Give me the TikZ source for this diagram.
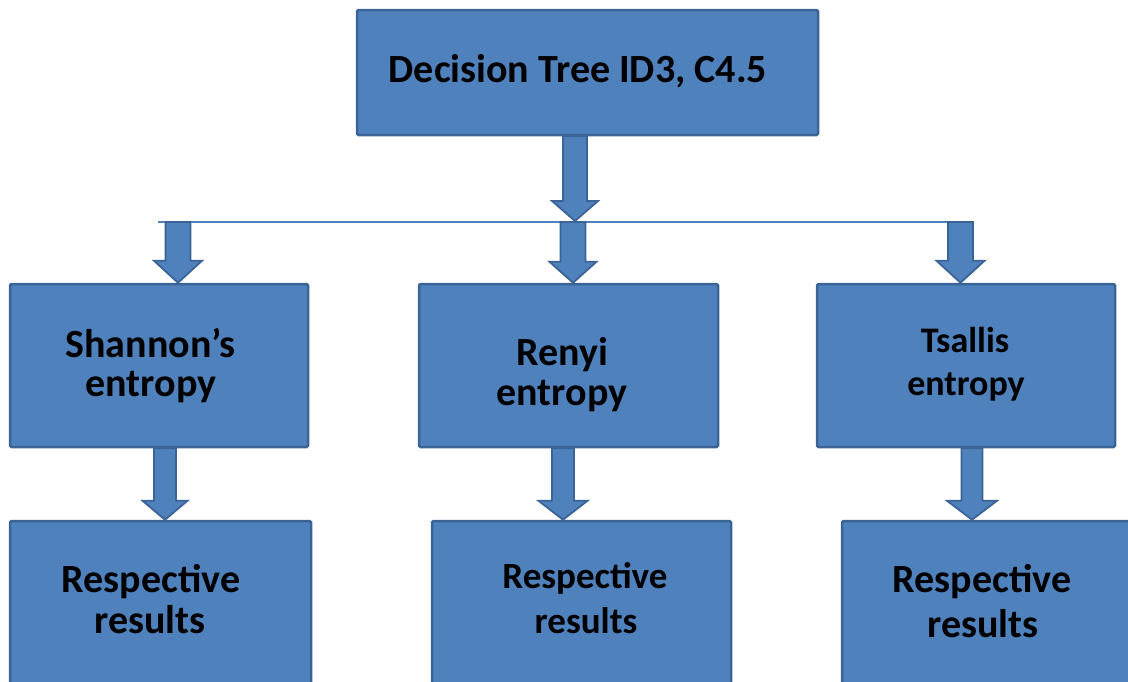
\documentclass[tikz,border=0pt]{standalone}
\usepackage{fontspec}
\setmainfont{Carlito}
\usetikzlibrary{calc}
\definecolor{boxfill}{HTML}{4F81BD}
\definecolor{boxline}{HTML}{3A6496}

% Block arrow pointing down: #1 gives x, #2 start y, #3 tip y,
% #4 shaft half width, #5 head half width, #6 head length (pt)
\newcommand{\blockdown}[6]{%
  \draw[blockarrow] let \p0=(#1), \p1=(#2), \p2=(#3) in
    (\x0-#4pt,\y1) -- (\x0-#4pt,\y2+#6pt) -- (\x0-#5pt,\y2+#6pt) -- (\x0,\y2)
    -- (\x0+#5pt,\y2+#6pt) -- (\x0+#4pt,\y2+#6pt) -- (\x0+#4pt,\y1) -- cycle;}

\begin{document}
\begin{tikzpicture}[x=1pt,y=-1pt,
  box/.style={draw=boxline, fill=boxfill, line width=2.5pt, rounded corners=1.5pt, inner sep=0pt},
  boxtext/.style={font=\bfseries\fontsize{#1}{#1}\selectfont, text=black, anchor=base, inner sep=0pt},
  boxtext/.default=40,
  blockarrow/.style={draw=boxline, fill=boxfill, line width=1.8pt, line join=miter},
  splitline/.style={draw=boxfill, line width=1.5pt}
]
\useasboundingbox (0,0) rectangle (1128,681);
\clip (0,0) rectangle (1128,681);

% boxes
\node[box, minimum width=461pt, minimum height=125pt] (top) at (587.5,72.5) {};
\node[box, minimum width=298pt, minimum height=163pt] (sh) at (159,365.5) {};
\node[box, minimum width=299pt, minimum height=163pt] (re) at (568.5,365.5) {};
\node[box, minimum width=298pt, minimum height=163pt] (ts) at (966,365.5) {};
\node[box, minimum width=301pt, minimum height=200pt] (r1) at (160.5,621) {};
\node[box, minimum width=299pt, minimum height=200pt] (r2) at (581.5,621) {};
\node[box, minimum width=298pt, minimum height=200pt] (r3) at (991,621) {};

% texts
\node[boxtext] (ttop) at (578,82) {Decision Tree ID3, C4.5};
\node[boxtext] (tsh1) at (150.5,357) {Shannon’s};
\node[boxtext] (tsh2) at (151,396) {entropy};
\node[boxtext] (tre1) at (562,365) {Renyi};
\node[boxtext] (tre2) at (562,405) {entropy};
\node[boxtext=36] (tts1) at (965,352) {Tsallis};
\node[boxtext=36] (tts2) at (966,395) {entropy};
\node[boxtext] (tr11) at (151,592) {Respective};
\node[boxtext] (tr12) at (150,633) {results};
\node[boxtext=37] (tr21) at (585,588) {Respective};
\node[boxtext=37] (tr22) at (586,633) {results};
\node[boxtext] (tr31) at (982,592) {Respective};
\node[boxtext] (tr32) at (983,637) {results};

% splitting line and arrow positions
\coordinate (hl) at (158,222);
\coordinate (hr) at (960,222);
\coordinate (xa) at (575,221);
\coordinate (xl) at (178,222);
\coordinate (xm) at (573,222);
\coordinate (xr) at (960.5,222);
\coordinate (xl2) at (165,484);
\coordinate (xm2) at (563,484);
\coordinate (xr2) at (972,484);

\draw[splitline] (hl) -- (hr);

% arrows
\blockdown{xa}{top.south}{xa}{12}{23}{20}
\blockdown{xl}{xl}{sh.north}{12.5}{24}{22}
\blockdown{xm}{xm}{re.north}{12.5}{23.5}{21}
\blockdown{xr}{xr}{ts.north}{12.5}{24}{22}
\blockdown{xl2}{sh.south}{r1.north}{11}{22.5}{19}
\blockdown{xm2}{re.south}{r2.north}{11}{24.5}{19}
\blockdown{xr2}{ts.south}{r3.north}{10.5}{25}{19}
\end{tikzpicture}
\end{document}
